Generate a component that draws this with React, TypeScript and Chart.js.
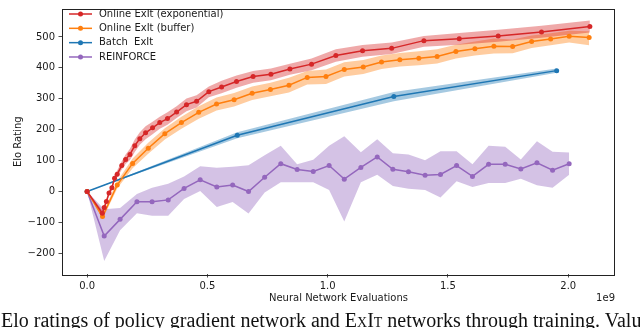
import React, { useEffect, useRef } from "react";
import { Chart, registerables } from "chart.js";
Chart.register(...registerables);

// ---- data (x in units of 1e9 neural network evaluations) ----
const xTicks = [0, 0.5, 1.0, 1.5, 2.0];
const yTicks = [-200, -100, 0, 100, 200, 300, 400, 500];

const seriesLabels = ["Online ExIt (exponential)", "Online ExIt (buffer)", "Batch  ExIt", "REINFORCE"];

const expX = [0, 0.063, 0.071, 0.080, 0.091, 0.103, 0.114, 0.125, 0.144, 0.160, 0.178, 0.198, 0.219, 0.243, 0.272, 0.302, 0.334, 0.372, 0.413, 0.455, 0.506, 0.559, 0.621, 0.690, 0.764, 0.843, 0.933, 1.034, 1.145, 1.266, 1.400, 1.547, 1.709, 1.889, 2.090];
const expY = [0, -70, -52, -32, -5, 12, 43, 56, 84, 104, 120, 148, 171, 190, 206, 223, 236, 257, 281, 292, 323, 338, 356, 372, 379, 396, 412, 440, 455, 463, 488, 494, 503, 516, 534];
const expHi = [0, -60, -44, -24, 3, 22, 54, 68, 98, 120, 138, 168, 192, 211, 226, 242, 256, 276, 301, 311, 340, 358, 375, 390, 398, 413, 430, 460, 474, 482, 503, 513, 523, 536, 553];
const expLo = [0, -80, -60, -40, -13, 3, 33, 45, 71, 89, 102, 128, 151, 169, 185, 203, 216, 238, 260, 272, 305, 318, 336, 352, 360, 378, 392, 420, 436, 445, 468, 475, 484, 497, 514];

const bufX = [0, 0.064, 0.125, 0.189, 0.254, 0.323, 0.392, 0.464, 0.538, 0.611, 0.686, 0.762, 0.839, 0.915, 0.993, 1.069, 1.148, 1.224, 1.300, 1.379, 1.455, 1.533, 1.612, 1.691, 1.769, 1.848, 1.927, 2.004, 2.087];
const bufY = [0, -81, 21, 91, 140, 187, 223, 256, 283, 297, 318, 330, 344, 369, 372, 395, 403, 419, 426, 431, 437, 453, 462, 470, 469, 485, 493, 502, 498];
const bufHi = [0, -72, 33, 107, 158, 205, 242, 276, 304, 319, 340, 352, 368, 390, 395, 418, 425, 440, 448, 454, 460, 475, 485, 495, 492, 505, 512, 520, 518];
const bufLo = [0, -90, 10, 75, 122, 168, 203, 235, 262, 275, 296, 308, 320, 346, 348, 372, 380, 396, 404, 408, 414, 430, 440, 446, 447, 464, 473, 482, 473];

const batchX = [0, 0.624, 1.275, 1.952];
const batchY = [0, 182, 307, 391];
const batchHi = [0, 192, 322, 398];
const batchLo = [0, 172, 292, 384];

const reinX = [0, 0.071, 0.137, 0.207, 0.270, 0.337, 0.403, 0.470, 0.539, 0.605, 0.671, 0.738, 0.805, 0.873, 0.940, 1.006, 1.069, 1.138, 1.206, 1.271, 1.336, 1.405, 1.469, 1.536, 1.602, 1.669, 1.738, 1.803, 1.870, 1.935, 2.004];
const reinY = [0, -144, -90, -33, -33, -27, 10, 38, 15, 21, 0, 46, 90, 71, 65, 84, 40, 78, 112, 72, 64, 53, 55, 84, 49, 88, 88, 73, 93, 69, 90];
const reinHi = [0, -57, -53, -8, 12, 25, 49, 82, 77, 80, 85, 117, 148, 88, 103, 148, 179, 127, 169, 124, 120, 101, 130, 130, 88, 148, 145, 104, 163, 129, 126];
const reinLo = [0, -225, -125, -70, -78, -78, -24, 2, -50, -34, -71, -3, 30, 30, 30, 5, -97, 30, 54, 18, 9, 5, -19, 33, 15, 28, 28, 41, 20, 12, 54];

const COLORS = ["#d62728", "#ff7f0e", "#1f77b4", "#9467bd"];
const BANDS = ["rgba(214,39,40,0.4)", "rgba(255,127,14,0.4)", "rgba(31,119,180,0.4)", "rgba(148,103,189,0.4)"];

const FONT = "DejaVu Sans";
const TEXT = "#1a1a1a";

const pts = (xs: number[], ys: number[]) => xs.map((x, i) => ({ x, y: ys[i] }));

const framePlugin = {
  id: "mplFrame",
  afterDraw(chart: any) {
    const { ctx, chartArea } = chart;
    const { left, top, right, bottom } = chartArea;
    ctx.save();
    ctx.strokeStyle = "#222";
    ctx.lineWidth = 1;
    ctx.strokeRect(Math.round(left) + 0.5, Math.round(top) - 0.5, Math.round(right - left) - 1, Math.round(bottom - top) + 1);
    // offset text of the x axis
    ctx.fillStyle = TEXT;
    ctx.font = `10px "${FONT}"`;
    ctx.textAlign = "right";
    ctx.textBaseline = "middle";
    ctx.fillText("1e9", right, 298);
    // legend
    const main = chart.data.datasets.filter((d: any) => d.isMain);
    main.forEach((d: any, i: number) => {
      const y = 14 + i * 14.33;
      ctx.strokeStyle = d.borderColor;
      ctx.lineWidth = 1.5;
      ctx.beginPath();
      ctx.moveTo(69, y);
      ctx.lineTo(92, y);
      ctx.stroke();
      ctx.fillStyle = d.borderColor;
      ctx.beginPath();
      ctx.arc(80.5, y, 2.5, 0, Math.PI * 2);
      ctx.fill();
      ctx.fillStyle = TEXT;
      ctx.textAlign = "left";
      ctx.fillText(d.label, 99, y);
    });
    ctx.restore();
  },
};

export default function App() {
  const ref = useRef<HTMLCanvasElement>(null);
  useEffect(() => {
    if (!ref.current) return;
    const xsAll = [expX, bufX, batchX, reinX];
    const ysAll = [expY, bufY, batchY, reinY];
    const hiAll = [expHi, bufHi, batchHi, reinHi];
    const loAll = [expLo, bufLo, batchLo, reinLo];
    const datasets: any[] = [];
    for (let i = 0; i < 4; i++) {
      datasets.push({
        label: "_hi" + i,
        data: pts(xsAll[i], hiAll[i]),
        borderWidth: 0,
        borderColor: "rgba(0,0,0,0)",
        backgroundColor: BANDS[i],
        pointRadius: 0,
        fill: "+1",
        order: 2,
      });
      datasets.push({
        label: "_lo" + i,
        data: pts(xsAll[i], loAll[i]),
        borderWidth: 0,
        borderColor: "rgba(0,0,0,0)",
        pointRadius: 0,
        fill: false,
        order: 2,
      });
    }
    for (let i = 0; i < 4; i++) {
      datasets.push({
        label: seriesLabels[i],
        isMain: true,
        data: pts(xsAll[i], ysAll[i]),
        borderColor: COLORS[i],
        backgroundColor: COLORS[i],
        borderWidth: 1.5,
        pointRadius: 2.5,
        pointHoverRadius: 2.5,
        pointBorderWidth: 0,
        fill: false,
        tension: 0,
        order: 1,
      });
    }
    const chart = new Chart(ref.current, {
      type: "line",
      data: { datasets },
      options: {
        animation: false,
        responsive: false,
        devicePixelRatio: 1,
        layout: { padding: { left: 0, right: 25, top: 1, bottom: 0 } },
        plugins: { legend: { display: false }, tooltip: { enabled: false } },
        scales: {
          x: {
            type: "linear",
            min: -0.1045,
            max: 2.1945,
            afterBuildTicks: (s: any) => {
              s.ticks = xTicks.map((v) => ({ value: v }));
            },
            afterFit: (s: any) => {
              s.height = 36;
            },
            grid: { display: true, drawOnChartArea: false, drawTicks: true, tickLength: 3.5, tickColor: "#222", tickWidth: 0.8 },
            border: { display: false },
            ticks: {
              color: TEXT,
              font: { family: FONT, size: 10 },
              padding: 3,
              maxRotation: 0,
              autoSkip: false,
              callback: (v: any) => Number(v).toFixed(1),
            },
            title: {
              display: true,
              text: "Neural Network Evaluations",
              color: TEXT,
              font: { family: FONT, size: 10 },
              padding: { top: 0, bottom: 6 },
            },
          },
          y: {
            type: "linear",
            min: -266.7,
            max: 588.7,
            afterBuildTicks: (s: any) => {
              s.ticks = yTicks.map((v) => ({ value: v }));
            },
            afterFit: (s: any) => {
              s.width = 62;
            },
            grid: { display: true, drawOnChartArea: false, drawTicks: true, tickLength: 3.5, tickColor: "#222", tickWidth: 0.8 },
            border: { display: false },
            ticks: {
              color: TEXT,
              font: { family: FONT, size: 10 },
              padding: 3.5,
              autoSkip: false,
              callback: (v: any) => String(v).replace("-", "\u2212"),
            },
            title: {
              display: true,
              text: "Elo Rating",
              color: TEXT,
              font: { family: FONT, size: 10 },
              padding: { top: 12, bottom: 0 },
            },
          },
        },
      },
      plugins: [framePlugin],
    });
    return () => chart.destroy();
  }, []);

  return (
    <div style={{ position: "absolute", left: 0, top: 0, width: 640, height: 328, overflow: "hidden", background: "#fff" }}>
      <canvas ref={ref} width={640} height={310} style={{ display: "block", width: 640, height: 310 }} />
      <div
        style={{
          position: "absolute",
          left: 1,
          top: 310,
          whiteSpace: "nowrap",
          fontFamily: '"Liberation Serif", serif',
          fontSize: 20,
          lineHeight: "20px",
          color: "#111",
        }}
      >
        Elo ratings of policy gradient network and <span style={{ fontVariant: "small-caps" }}>ExIt</span> networks through training. Values are
      </div>
    </div>
  );
}
